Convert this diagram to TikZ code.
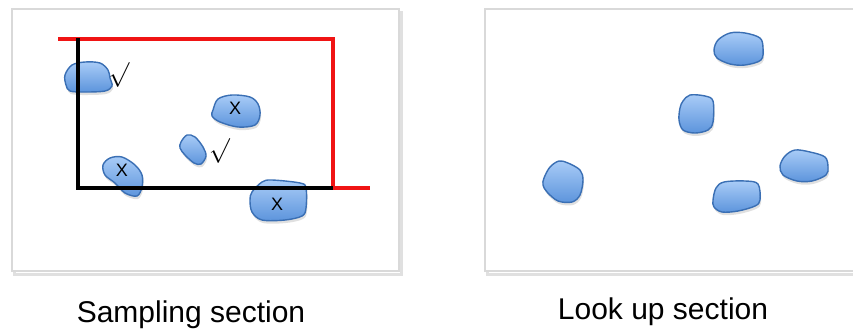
\documentclass[tikz,border=0pt]{standalone}
\usepackage{fontspec}
\setmainfont{Liberation Sans}
\definecolor{blobtop}{HTML}{A9CCF7}
\definecolor{blobbot}{HTML}{5C94DC}
\definecolor{blobline}{HTML}{3A6FB4}
\definecolor{redline}{HTML}{F01414}
\definecolor{frame}{HTML}{D9D9D9}
\tikzset{
  blob/.style={draw=blobline, line width=1.4pt, top color=blobtop, bottom color=blobbot, line join=round},
  blobshadow/.style={fill=black, opacity=0.12},
  panel/.style={draw=frame, line width=2pt, fill=white},
  panelshadow/.style={draw=black!12, line width=3pt},
  xlabel/.style={font=\fontsize{18}{18}\selectfont, inner sep=0pt},
  ticklabel/.style={font=\fontsize{24}{24}\selectfont, inner sep=0pt},
  caption/.style={font=\fontsize{30}{30}\selectfont, inner sep=0pt, anchor=base},
}
\newcommand\myblob[1]{%
  \fill[blobshadow, shift={(1,3)}] plot[smooth cycle, tension=0.55] coordinates {#1};
  \path[blob] plot[smooth cycle, tension=0.55] coordinates {#1};}
\begin{document}
\begin{tikzpicture}[x=1pt,y=-1pt]
\useasboundingbox (0,0) rectangle (853,333);
\clip (0,0) rectangle (853,333);
% panels
\draw[panelshadow] (14,12) rectangle (401,274);
\draw[panel] (12,9) rectangle (399,271);
\draw[panelshadow] (487,12) rectangle (875,274);
\draw[panel] (485,9) rectangle (873,271);

% left blobs
\myblob{(66,85) (65,75) (72,65) (85,62) (100,63) (108,70) (110,78) (112,86) (105,91) (85,92) (70,91)}
\myblob{(213,110) (218,99) (232,95) (250,97) (258,104) (260,115) (255,125) (238,127) (220,122) (212,116)}
\myblob{(181,142) (187,135) (195,137) (203,147) (206,156) (201,164) (194,163) (185,155) (180,148)}
\myblob{(103,165) (110,158) (122,157) (135,165) (142,175) (142,187) (137,196) (125,193) (115,183) (105,175)}
\myblob{(252,192) (262,182) (272,180) (300,183) (306,188) (306,208) (302,216) (285,220) (262,220) (252,212) (250,200)}

% right blobs
\myblob{(714,50) (718,40) (730,33) (745,33) (760,38) (763,48) (761,60) (745,65) (730,64) (717,58)}
\myblob{(680,108) (683,101) (690,95) (705,96) (713,101) (713,122) (708,130) (695,133) (683,130) (679,120)}
\myblob{(544,178) (550,167) (559,161) (568,163) (580,170) (583,180) (580,195) (572,202) (558,201) (547,192) (543,185)}
\myblob{(713,200) (716,188) (724,182) (745,181) (758,184) (760,200) (755,206) (738,211) (722,212) (714,207)}
\myblob{(780,166) (785,156) (795,150) (810,152) (825,157) (828,167) (826,175) (812,181) (797,181) (783,175)}

% lines
\draw[redline, line width=3.3pt] (58,39) -- (333,39) -- (333,188) -- (370,188);
\draw[black, line width=4pt, line join=miter] (78,37.5) -- (78,188) -- (333,188);

% labels
\node[xlabel] (x1) at (235,108) {X};
\node[xlabel] (x2) at (122,170) {X};
\node[xlabel] (x3) at (277,204) {X};
\node[ticklabel] (t1) at (119,75) {$\surd$};
\node[ticklabel] (t2) at (219.5,151) {$\surd$};

\node[caption] (c1) at (191,322) {Sampling section};
\node[caption] (c2) at (663,319) {Look up section};
\end{tikzpicture}
\end{document}
